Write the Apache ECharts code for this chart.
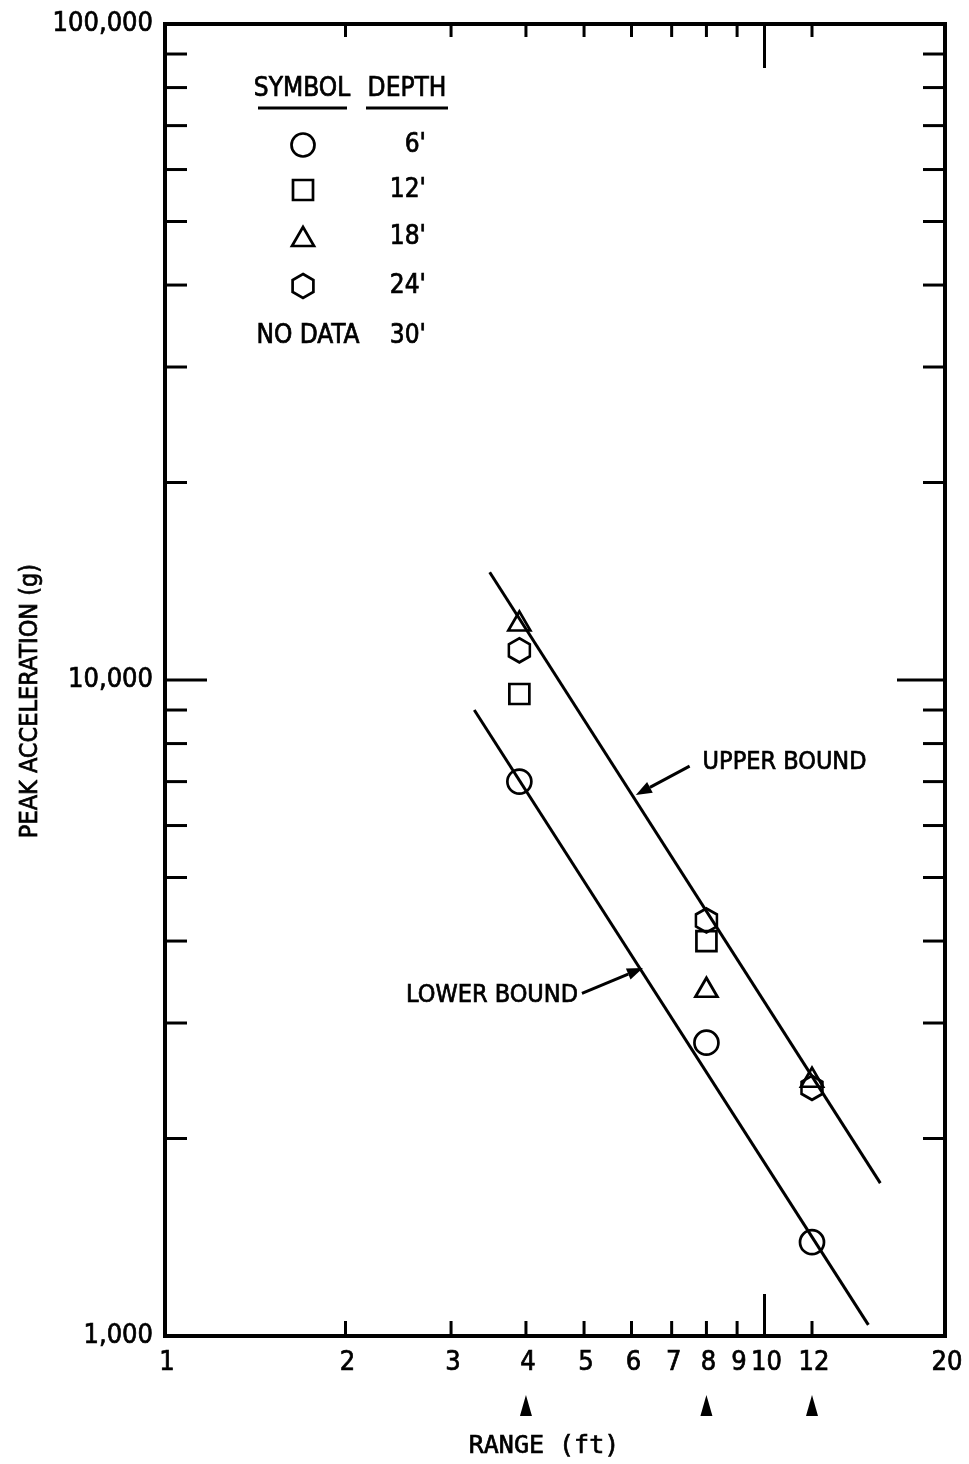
<!DOCTYPE html>
<html>
<head>
<meta charset="utf-8">
<script src="https://cdn.jsdelivr.net/npm/echarts@6/dist/echarts.min.js"></script>
<style>
html,body{margin:0;padding:0;background:#fff}
#chart{width:969px;height:1464px}
</style>
</head>
<body>
<div id="chart"></div>
<script>
// Peak acceleration vs. range, log-log
const FONT = '"DejaVu Sans Condensed", "DejaVu Sans", sans-serif';
const MONO = '"DejaVu Sans Mono", "Liberation Mono", monospace';
const X_MIN = 1, X_MAX = 20;
const Y_MIN = 1000, Y_MAX = 100000;

const xTickValues = [2, 3, 4, 5, 6, 7, 8, 9, 10, 12];
const xLabelValues = [1, 2, 3, 4, 5, 6, 7, 8, 9, 10, 12, 20];
const yTickValues = [2000, 3000, 4000, 5000, 6000, 7000, 8000, 9000, 10000,
                     20000, 30000, 40000, 50000, 60000, 70000, 80000, 90000];
const yLabelValues = [1000, 10000, 100000];
const testRanges = [4, 8, 12];

// measured points [range ft, peak g] by gauge depth
const depth6  = [[3.9, 7000], [8, 2800], [12, 1390]];
const depth12 = [[3.9, 9520], [8, 4000]];
const depth18 = [[3.9, 12300], [8, 3400], [12, 2480]];
const depth24 = [[3.9, 11100], [8, 4300], [12, 2390]];

// bounding lines
const upperBound = [[3.48, 14600], [15.6, 1710]];
const lowerBound = [[3.28, 9000], [14.9, 1040]];

const HEX_PATH = 'path://M0,-10L8.66,-5L8.66,5L0,10L-8.66,5L-8.66,-5Z';
const INK = '#000';

const chart = echarts.init(document.getElementById('chart'), null, {renderer: 'canvas'});

function fmt(v) { return v.toLocaleString('en-US'); }

// text style shared by every label: slightly heavier strokes
function textStyle(text, size, align, family) {
  return {text, fontFamily: family || FONT, fontSize: size, fill: INK,
          stroke: INK, lineWidth: 0.7,
          align: align || 'center', verticalAlign: 'middle'};
}

const markerStyle = {color: 'rgba(0,0,0,0)', borderColor: INK, borderWidth: 2.7, opacity: 1};

function scatter(name, data, symbol, size) {
  return {
    name, type: 'scatter', data, symbol, symbolSize: size,
    itemStyle: markerStyle, z: 3, silent: true
  };
}

function boundLine(name, data) {
  return {
    name, type: 'line', data, showSymbol: false, symbol: 'none',
    lineStyle: {color: INK, width: 3}, z: 4, silent: true, animation: false
  };
}

const tickStyle = {stroke: INK, lineWidth: 3};

const option = {
  animation: false,
  backgroundColor: '#fff',
  grid: {
    left: 165, right: 24, top: 24, bottom: 128,
    show: true, borderColor: INK, borderWidth: 4, backgroundColor: 'transparent'
  },
  xAxis: {
    type: 'log', logBase: 10, min: X_MIN, max: X_MAX,
    axisLine: {show: false}, axisTick: {show: false},
    axisLabel: {show: false}, splitLine: {show: false}
  },
  yAxis: {
    type: 'log', logBase: 10, min: Y_MIN, max: Y_MAX,
    axisLine: {show: false}, axisTick: {show: false},
    axisLabel: {show: false}, splitLine: {show: false}
  },
  series: [
    // x ticks, bottom and top edges, pointing inward
    {
      type: 'custom', silent: true, z: 5,
      data: xTickValues.map(v => [v, Y_MIN]),
      renderItem(params, api) {
        const v = api.value(0);
        const b = api.coord([v, Y_MIN]);
        const t = api.coord([v, Y_MAX]);
        const major = v === 10;
        return {type: 'group', children: [
          {type: 'line', shape: {x1: b[0], y1: b[1], x2: b[0], y2: b[1] - (major ? 42 : 15)}, style: tickStyle},
          {type: 'line', shape: {x1: t[0], y1: t[1], x2: t[0], y2: t[1] + (major ? 44 : 13)}, style: tickStyle}
        ]};
      }
    },
    // y ticks, left and right edges
    {
      type: 'custom', silent: true, z: 5,
      data: yTickValues.map(v => [X_MIN, v]),
      renderItem(params, api) {
        const v = api.value(1);
        const l = api.coord([X_MIN, v]);
        const r = api.coord([X_MAX, v]);
        const major = v === 10000;
        return {type: 'group', children: [
          {type: 'line', shape: {x1: l[0], y1: l[1], x2: l[0] + (major ? 42 : 22), y2: l[1]}, style: tickStyle},
          {type: 'line', shape: {x1: r[0], y1: r[1], x2: r[0] - (major ? 48 : 22), y2: r[1]}, style: tickStyle}
        ]};
      }
    },
    // x tick labels
    {
      type: 'custom', silent: true, z: 5,
      data: xLabelValues.map(v => [v, Y_MIN]),
      renderItem(params, api) {
        const v = api.value(0);
        const b = api.coord([v, Y_MIN]);
        return {type: 'text', x: b[0] + 2, y: b[1] + 27,
          style: textStyle(String(v), 27)};
      }
    },
    // y tick labels
    {
      type: 'custom', silent: true, z: 5,
      data: yLabelValues.map(v => [X_MIN, v]),
      renderItem(params, api) {
        const v = api.value(1);
        const l = api.coord([X_MIN, v]);
        return {type: 'text', x: l[0] - 12, y: l[1],
          style: textStyle(fmt(v), 27, 'right')};
      }
    },
    // test-range pointers under the x axis
    {
      type: 'custom', silent: true, z: 5,
      data: testRanges.map(v => [v, Y_MIN]),
      renderItem(params, api) {
        const b = api.coord([api.value(0), Y_MIN]);
        const y0 = b[1] + 59;
        return {type: 'polygon',
          shape: {points: [[b[0], y0], [b[0] + 6, y0 + 21], [b[0] - 6, y0 + 21]]},
          style: {fill: INK}};
      }
    },
    scatter("6'", depth6, 'circle', 24),
    scatter("12'", depth12, 'rect', 20),
    scatter("18'", depth18, 'triangle', [22, 19]),
    scatter("24'", depth24, HEX_PATH, [21, 24]),
    boundLine('UPPER BOUND', upperBound),
    boundLine('LOWER BOUND', lowerBound)
  ]
};

chart.setOption(option);

// axis titles, symbol key and bound callouts
function arrow(tail, tip) {
  const dx = tip[0] - tail[0], dy = tip[1] - tail[1];
  const len = Math.hypot(dx, dy), ux = dx / len, uy = dy / len;
  const hl = 16, hw = 6;
  const bx = tip[0] - ux * hl, by = tip[1] - uy * hl;
  return [
    {type: 'line', shape: {x1: tail[0], y1: tail[1], x2: bx, y2: by}, style: {stroke: INK, lineWidth: 3}},
    {type: 'polygon', shape: {points: [tip, [bx - uy * hw, by + ux * hw], [bx + uy * hw, by - ux * hw]]}, style: {fill: INK}}
  ];
}

const px = p => chart.convertToPixel({gridIndex: 0}, p);
const upTip = px([6.1, 6680]), upTail = px([7.5, 7390]);
const loTip = px([6.27, 3640]), loTail = px([4.96, 3330]);

const txt = (x, y, text, align, size, family) => ({type: 'text', x, y,
  style: textStyle(text, size || 26, align, family)});

const keyX = 303;
const keyRows = [145, 190, 237, 286];
const keyStroke = {fill: 'none', stroke: INK, lineWidth: 2.7};
const keyElems = [
  txt(302, 89, 'SYMBOL'), txt(407, 89, 'DEPTH'),
  {type: 'line', shape: {x1: 258, y1: 108, x2: 347, y2: 108}, style: {stroke: INK, lineWidth: 3}},
  {type: 'line', shape: {x1: 366, y1: 108, x2: 448, y2: 108}, style: {stroke: INK, lineWidth: 3}},
  {type: 'circle', shape: {cx: keyX, cy: keyRows[0], r: 11.5}, style: keyStroke},
  {type: 'rect', shape: {x: keyX - 10, y: keyRows[1] - 10, width: 20, height: 20}, style: keyStroke},
  {type: 'polygon', shape: {points: [[keyX, keyRows[2] - 10], [keyX + 11, keyRows[2] + 9], [keyX - 11, keyRows[2] + 9]]}, style: keyStroke},
  {type: 'polygon', shape: {points: [[keyX, keyRows[3] - 12], [keyX + 10.4, keyRows[3] - 6], [keyX + 10.4, keyRows[3] + 6], [keyX, keyRows[3] + 12], [keyX - 10.4, keyRows[3] + 6], [keyX - 10.4, keyRows[3] - 6]]}, style: keyStroke},
  txt(426, keyRows[0], "6'", 'right'),
  txt(426, keyRows[1], "12'", 'right'),
  txt(426, keyRows[2], "18'", 'right'),
  txt(426, keyRows[3], "24'", 'right'),
  txt(308, 336, 'NO DATA'),
  txt(426, 336, "30'", 'right')
];

chart.setOption({
  graphic: [
    ...keyElems,
    ...arrow(upTail, upTip),
    txt(upTail[0] + 13, upTail[1] - 4, 'UPPER BOUND', 'left', 25),
    ...arrow(loTail, loTip),
    txt(loTail[0] - 4, loTail[1] + 2, 'LOWER BOUND', 'right', 25),
    txt(544, 1446, 'RANGE (ft)', 'center', 25, MONO),
    {type: 'text', x: 30, y: 701, rotation: Math.PI / 2,
     style: textStyle('PEAK ACCELERATION (g)', 25)}
  ]
});
</script>
</body>
</html>
